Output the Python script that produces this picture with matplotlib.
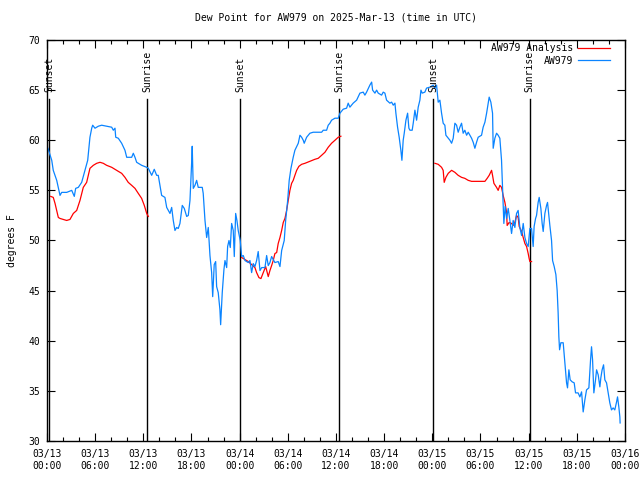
import numpy as np
import matplotlib
matplotlib.use("Agg")
import matplotlib.pyplot as plt
from matplotlib.ticker import MultipleLocator

# hours since 2025-03-13 00:00 UTC, dew point in degrees F
obs_hours = [0.12, 0.59, 0.78, 1.21, 1.62, 1.83, 2.45, 3.08, 3.40, 3.57, 3.90, 4.32, 4.73, 5.07,
             5.35, 5.57, 5.69, 5.98, 6.39, 6.81, 8.06, 8.26, 8.47, 8.56, 8.88, 9.30, 9.71, 9.93,
             10.55, 10.75, 10.96, 11.17, 11.79, 12.42, 12.62, 13.04, 13.36, 13.66, 13.86, 14.07,
             14.28, 14.69, 14.91, 15.32, 15.53, 15.73, 15.94, 16.15, 16.35, 16.56, 16.85, 17.10,
             17.40, 17.60, 17.81, 18.02, 18.09, 18.22, 18.43, 18.64, 18.84, 19.34, 19.46, 19.68,
             19.89, 20.09, 20.30, 20.51, 20.64, 20.83, 21.01, 21.13, 21.33, 21.54, 21.63, 21.83,
             22.04, 22.17, 22.38, 22.50, 22.67, 22.83, 23.00, 23.20, 23.33, 23.50, 23.66, 23.82,
             24.07, 24.25, 24.45, 24.66, 25.07, 25.28, 25.49, 25.69, 25.90, 26.11, 26.31, 26.53,
             26.74, 27.15, 27.36, 27.56, 27.77, 27.98, 28.39, 28.80, 29.02, 29.23, 29.55, 29.73,
             29.98, 30.17, 30.39, 30.67, 30.88, 31.30, 31.51, 31.72, 31.92, 32.04, 32.34, 32.75,
             33.16, 34.21, 34.41, 34.83, 35.03, 35.24, 35.45, 35.87, 36.28, 36.49, 36.90, 37.32,
             37.52, 37.73, 38.14, 38.57, 38.98, 39.39, 39.60, 39.81, 40.22, 40.44, 40.56, 40.85,
             41.06, 41.26, 41.68, 41.88, 42.09, 42.30, 42.71, 42.93, 43.13, 43.34, 43.46, 43.67,
             43.87, 44.08, 44.21, 44.37, 44.50, 44.71, 44.92, 45.08, 45.21, 45.49, 45.62, 45.83,
             46.04, 46.24, 46.45, 46.58, 46.74, 47.07, 47.28, 47.70, 48.11, 48.32, 48.53, 48.73,
             48.94, 49.15, 49.35, 49.56, 49.69, 49.98, 50.19, 50.40, 50.60, 50.81, 51.02, 51.22,
             51.43, 51.64, 51.84, 52.05, 52.27, 52.47, 52.68, 52.89, 53.09, 53.30, 53.51, 53.71,
             54.13, 54.33, 54.55, 54.76, 54.96, 55.08, 55.29, 55.50, 55.58, 55.79, 56.00, 56.20,
             56.41, 56.62, 56.75, 56.91, 57.07, 57.25, 57.45, 57.66, 57.87, 58.07, 58.28, 58.49,
             58.69, 58.90, 59.12, 59.32, 59.53, 59.74, 59.94, 60.15, 60.36, 60.56, 60.68, 60.86,
             60.98, 61.18, 61.31, 61.52, 61.68, 61.81, 62.02, 62.23, 62.35, 62.52, 62.64, 62.85,
             62.98, 63.18, 63.39, 63.55, 63.67, 63.76, 63.85, 64.01, 64.30, 64.51, 64.72, 64.84,
             65.01, 65.17, 65.42, 65.67, 65.84, 66.16, 66.38, 66.59, 66.79, 67.00, 67.21, 67.50,
             67.71, 67.83, 67.96, 68.12, 68.33, 68.46, 68.66, 68.87, 68.99, 69.15, 69.33, 69.49,
             69.70, 69.90, 70.11, 70.32, 70.52, 70.73, 70.95, 71.07, 71.23, 71.36, 71.39]
obs_dewpt = [59.2, 58.0, 57.0, 56.0, 54.5, 54.8, 54.8, 55.0, 54.4, 55.2, 55.3, 55.8, 57.0, 58.0,
             60.3, 61.2, 61.5, 61.2, 61.4, 61.5, 61.3, 61.0, 61.2, 60.3, 60.2, 59.7, 59.0, 58.3,
             58.3, 58.7, 58.3, 57.8, 57.5, 57.3, 57.2, 56.5, 57.1, 56.5, 56.5, 55.5,
             54.5, 54.3, 53.3, 52.7, 53.3, 52.0, 51.0, 51.3, 51.2, 51.7, 53.5, 53.2,
             52.4, 52.5, 54.0, 57.8, 59.4, 55.2, 55.5, 56.0, 55.3, 55.3, 54.7, 52.0,
             50.3, 51.3, 48.5, 46.8, 44.4, 47.6, 47.9, 45.4, 44.8, 43.1, 41.6, 44.8,
             47.1, 48.0, 47.3, 49.4, 50.0, 49.3, 51.7, 51.0, 48.4, 52.7, 52.0, 51.0,
             50.0, 48.4, 48.5, 48.0, 47.8, 48.0, 46.8, 47.7, 47.4, 48.0, 48.9, 47.0,
             47.3, 47.3, 48.5, 47.5, 47.8, 48.4, 47.8, 47.9, 47.4, 49.0, 50.0, 52.0,
             54.0, 56.0, 57.2, 58.3, 59.0, 59.7, 60.5, 60.3, 60.0, 59.7, 60.3, 60.7,
             60.8, 60.8, 61.0, 61.0, 61.5, 61.7, 62.0, 62.2, 62.2, 62.7, 63.1, 63.2,
             63.7, 63.3, 63.7, 64.0, 64.7, 64.8, 64.5, 64.8, 65.5, 65.8, 65.0, 64.7,
             65.0, 64.7, 64.5, 64.8, 64.7, 64.0, 63.7, 63.8, 63.5, 63.7, 62.7, 61.3,
             60.3, 59.0, 58.0, 60.0, 60.7, 62.0, 62.7, 61.2, 61.0, 61.0, 61.7, 63.0,
             62.0, 63.3, 64.0, 65.0, 64.7, 64.8, 65.2, 65.3, 65.5, 65.2, 65.5, 63.8,
             64.0, 62.7, 61.7, 61.5, 60.5, 60.2, 60.0, 59.7, 60.2, 61.7, 61.5, 60.8,
             61.3, 61.7, 60.7, 61.0, 60.5, 60.8, 60.5, 60.2, 59.8, 59.2, 59.8, 60.3,
             60.5, 61.3, 61.8, 62.7, 63.7, 64.3, 63.8, 62.7, 59.2, 60.2, 60.7, 60.5,
             60.2, 58.0, 55.3, 51.7, 53.4, 52.2, 53.2, 52.0, 50.7, 52.0, 51.3, 52.7,
             53.0, 51.3, 50.5, 51.7, 50.3, 49.7, 49.4, 51.2, 51.2, 49.4, 51.4, 52.2,
             52.5, 53.8, 54.3, 53.2, 51.7, 50.9, 52.7, 53.5, 53.8, 52.4, 51.5, 50.0,
             48.0, 47.4, 46.6, 45.0, 42.8, 40.4, 39.1, 39.8, 39.8, 37.8, 35.8, 35.3,
             37.1, 36.1, 35.9, 35.8, 34.8, 34.8, 34.4, 34.9, 32.9, 34.1, 35.1, 35.3,
             38.1, 39.4, 38.1, 34.8, 36.1, 37.1, 36.6, 35.4, 36.3, 37.1, 37.6, 36.1,
             35.8, 34.8, 33.8, 33.1, 33.3, 33.1, 33.9, 34.4, 33.4, 32.4, 31.8]

# analysis series, NaN marks the gaps
ana_hours = [0.46, 0.78, 1.00, 1.41, 1.62, 2.03, 2.45, 2.86, 3.28, 3.70, 4.11, 4.52, 4.94, 5.35,
             5.77, 6.19, 6.60, 7.01, 7.43, 8.06, 8.47, 8.88, 9.30, 9.71, 10.12, 10.55, 10.96,
             11.37, 11.79, 12.12, 12.42, 12.62, 18.0,
             24.25, 25.07, 25.49, 25.90, 26.11, 26.40, 26.65, 26.94, 27.24, 27.56, 27.77, 27.98,
             28.18, 28.39, 28.61, 28.80, 29.02, 29.23, 29.43, 29.64, 29.85, 30.05, 30.26, 30.47,
             30.67, 30.88, 31.10, 31.38, 31.72, 32.13, 32.75, 33.37, 33.79, 34.21, 34.62, 35.03,
             35.45, 35.87, 36.28, 36.61, 42.0,
             48.32, 48.73, 49.15, 49.35, 49.48, 49.69, 49.98, 50.40, 50.81, 51.22, 51.64, 52.05,
             52.47, 52.89, 54.55, 54.83, 55.08, 55.38, 55.50, 55.67, 56.00, 56.20, 56.41, 56.62,
             56.82, 57.04, 57.25, 57.32, 57.57, 57.87, 58.07, 58.28, 58.49, 58.69, 58.82, 59.12,
             59.32, 59.53, 59.74, 59.94, 60.06, 60.15, 60.36]
ana_dewpt = [54.4, 54.3, 53.7, 52.3, 52.2, 52.1, 52.0, 52.1, 52.7, 53.0, 54.0, 55.3, 55.8, 57.2,
             57.5, 57.7, 57.8, 57.7, 57.5, 57.3, 57.1, 56.9, 56.7, 56.3, 55.8, 55.5, 55.2,
             54.7, 54.2, 53.5, 52.7, 52.4, np.nan,
             48.3, 47.9, 47.6, 47.3, 46.8, 46.3, 46.2, 46.8, 47.4, 46.4, 47.0, 47.5,
             48.0, 48.7, 48.8, 49.7, 50.3, 51.0, 51.8, 52.2, 53.0, 54.0, 55.0, 55.7,
             56.0, 56.5, 57.0, 57.4, 57.6, 57.7, 57.9, 58.1, 58.2, 58.5, 58.8, 59.3,
             59.7, 60.0, 60.3, 60.4, np.nan,
             57.7, 57.6, 57.3, 57.0, 55.8, 56.3, 56.7, 57.0, 56.8, 56.5, 56.3, 56.2,
             56.0, 55.9, 55.9, 56.2, 56.5, 57.0, 56.5, 55.7, 55.3, 55.0, 55.5, 55.3,
             54.5, 53.8, 52.8, 51.5, 51.8, 51.7, 51.5, 51.8, 52.5, 52.3, 51.4, 50.9,
             50.3, 49.7, 49.4, 48.7, 48.2, 47.9, 47.9]

event_hours = [0.25, 12.45, 24.03, 36.36, 48.07, 60.15]
event_names = ["Sunset", "Sunrise", "Sunset", "Sunrise", "Sunset", "Sunrise"]

tick_labels = ["03/13\n00:00", "03/13\n06:00", "03/13\n12:00", "03/13\n18:00",
               "03/14\n00:00", "03/14\n06:00", "03/14\n12:00", "03/14\n18:00",
               "03/15\n00:00", "03/15\n06:00", "03/15\n12:00", "03/15\n18:00",
               "03/16\n00:00"]

plt.rcParams['font.family'] = ['DejaVu Sans Mono']
plt.rcParams['font.size'] = 7

fig = plt.figure(figsize=(6.4, 4.8), dpi=100)
ax = fig.add_axes([47 / 640, 39 / 480, 578 / 640, 401 / 480])

for h, name in zip(event_hours, event_names):
    ax.plot([h, h], [30, 64.1], color='black', lw=1.0)
    ax.text(h, 64.8, name, rotation=90, ha='center', va='bottom', fontsize=7)

ax.plot(ana_hours, ana_dewpt, color='#ff0000', lw=0.9, label='AW979 Analysis')
ax.plot(obs_hours, obs_dewpt, color='#0a84ff', lw=0.9, label='AW979')

ax.set_xlim(0, 72)
ax.set_ylim(30, 70)
ax.set_xticks(np.arange(0, 73, 6))
ax.set_xticklabels(tick_labels)
ax.xaxis.set_minor_locator(MultipleLocator(2))
ax.set_yticks(np.arange(30, 71, 5))
ax.tick_params(which='both', direction='in', top=True, right=True, width=0.8)
ax.tick_params(which='major', length=6)
ax.tick_params(which='minor', length=3)
ax.tick_params(axis='x', pad=6)
ax.tick_params(axis='y', pad=5)
for s in ax.spines.values():
    s.set_linewidth(1.0)

ax.set_ylabel('degrees F', labelpad=8)
ax.set_title('Dew Point for AW979 on 2025-Mar-13 (time in UTC)', fontsize=7, pad=14)

ax.legend(loc='upper right', bbox_to_anchor=(0.984, 1.006), frameon=False, markerfirst=False,
          handlelength=3.3, borderaxespad=0.2, labelspacing=0.25, handletextpad=0.5, fontsize=7)

fig.savefig('out.png', dpi=100)
